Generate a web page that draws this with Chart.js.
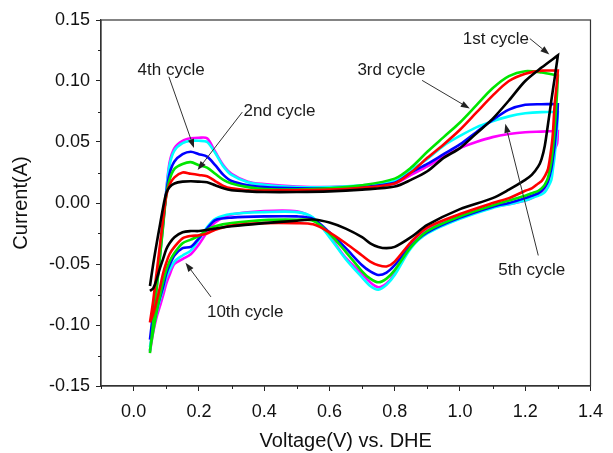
<!DOCTYPE html>
<html>
<head>
<meta charset="utf-8">
<script src="https://cdn.jsdelivr.net/npm/chart.js@4.4.1/dist/chart.umd.min.js"></script>
<style>
    body { margin: 0; background: #fff; }
    #wrap { width: 613px; height: 453px; position: relative; }
</style>
</head>
<body>
<div id="wrap"><canvas id="cvChart"></canvas></div>
<script>
// sweep voltages (V vs. DHE)
const vUp = [0.05, 0.06, 0.07, 0.08, 0.09, 0.10, 0.11, 0.125, 0.15, 0.175, 0.2, 0.225, 0.25, 0.275, 0.3, 0.35, 0.4, 0.5, 0.6, 0.7, 0.8, 0.85, 0.9, 0.95, 1.0, 1.05, 1.1, 1.15, 1.2, 1.25, 1.3];
const vDown = [1.3, 1.298, 1.29, 1.285, 1.28, 1.27, 1.26, 1.25, 1.24, 1.22, 1.2, 1.15, 1.1, 1.0, 0.9, 0.85, 0.8, 0.775, 0.75, 0.725, 0.7, 0.65, 0.6, 0.55, 0.5, 0.4, 0.3, 0.25, 0.225, 0.2, 0.175, 0.15, 0.125, 0.11, 0.1, 0.09, 0.08, 0.07, 0.06, 0.05];

// currents (A), anodic sweep then cathodic sweep
const cycle1Up = [-0.068, -0.050, -0.034, -0.019, -0.004, 0.008, 0.013, 0.016, 0.0175, 0.0178, 0.0175, 0.017, 0.0145, 0.012, 0.0105, 0.0095, 0.009, 0.009, 0.0095, 0.011, 0.0135, 0.019, 0.026, 0.037, 0.045, 0.057, 0.069, 0.084, 0.100, 0.111, 0.121];
const cycle1Down = [0.121, 0.117, 0.102, 0.093, 0.084, 0.065, 0.047, 0.036, 0.030, 0.023, 0.019, 0.011, 0.004, -0.005, -0.018, -0.028, -0.036, -0.037, -0.036, -0.033, -0.028, -0.021, -0.016, -0.0135, -0.0145, -0.0165, -0.019, -0.021, -0.022, -0.023, -0.023, -0.024, -0.028, -0.033, -0.038, -0.046, -0.054, -0.063, -0.070, -0.072];

const cycle2Up = [-0.098, -0.080, -0.058, -0.036, -0.014, 0.006, 0.015, 0.021, 0.025, 0.024, 0.023, 0.022, 0.018, 0.014, 0.012, 0.0105, 0.0103, 0.0105, 0.011, 0.0125, 0.016, 0.025, 0.037, 0.048, 0.060, 0.074, 0.088, 0.100, 0.106, 0.1085, 0.1085];
const cycle2Down = [0.1085, 0.101, 0.080, 0.058, 0.045, 0.028, 0.022, 0.018, 0.016, 0.012, 0.010, 0.004, 0.000, -0.009, -0.020, -0.032, -0.048, -0.052, -0.051, -0.048, -0.043, -0.033, -0.024, -0.0175, -0.0165, -0.0165, -0.0185, -0.022, -0.025, -0.0265, -0.027, -0.029, -0.036, -0.042, -0.049, -0.058, -0.070, -0.081, -0.091, -0.098];

const cycle3Up = [-0.123, -0.098, -0.072, -0.046, -0.020, 0.006, 0.019, 0.028, 0.032, 0.0335, 0.031, 0.029, 0.024, 0.019, 0.016, 0.013, 0.0115, 0.011, 0.012, 0.0145, 0.020, 0.029, 0.042, 0.054, 0.066, 0.080, 0.094, 0.104, 0.108, 0.107, 0.1045];
const cycle3Down = [0.1045, 0.092, 0.060, 0.045, 0.034, 0.021, 0.015, 0.012, 0.010, 0.008, 0.006, 0.002, -0.002, -0.011, -0.023, -0.036, -0.055, -0.062, -0.065, -0.062, -0.056, -0.040, -0.025, -0.0145, -0.0137, -0.014, -0.0165, -0.019, -0.022, -0.027, -0.030, -0.033, -0.041, -0.048, -0.055, -0.065, -0.077, -0.090, -0.105, -0.121];

const cycle4Up = [-0.112, -0.089, -0.065, -0.040, -0.016, 0.008, 0.024, 0.034, 0.040, 0.042, 0.040, 0.038, 0.031, 0.023, 0.018, 0.0145, 0.013, 0.012, 0.012, 0.013, 0.0165, 0.025, 0.032, 0.040, 0.048, 0.058, 0.068, 0.0765, 0.0805, 0.081, 0.081];
const cycle4Down = [0.081, 0.070, 0.047, 0.037, 0.028, 0.018, 0.013, 0.010, 0.008, 0.006, 0.004, 0.000, -0.003, -0.012, -0.024, -0.035, -0.051, -0.057, -0.059, -0.056, -0.051, -0.037, -0.024, -0.013, -0.011, -0.011, -0.012, -0.014, -0.021, -0.029, -0.036, -0.037, -0.043, -0.051, -0.058, -0.069, -0.078, -0.088, -0.099, -0.112];

const cycle5Up = [-0.121, -0.096, -0.070, -0.044, -0.018, 0.010, 0.031, 0.043, 0.049, 0.051, 0.051, 0.050, 0.041, 0.030, 0.023, 0.017, 0.015, 0.013, 0.013, 0.0145, 0.018, 0.027, 0.036, 0.047, 0.055, 0.062, 0.067, 0.071, 0.0735, 0.0745, 0.0745];
const cycle5Down = [0.0745, 0.063, 0.038, 0.028, 0.019, 0.013, 0.009, 0.007, 0.006, 0.004, 0.002, -0.001, -0.004, -0.013, -0.025, -0.037, -0.059, -0.067, -0.071, -0.068, -0.061, -0.046, -0.028, -0.012, -0.0075, -0.0075, -0.009, -0.013, -0.020, -0.030, -0.039, -0.043, -0.048, -0.055, -0.061, -0.071, -0.080, -0.090, -0.103, -0.118];

const cycle10Up = [-0.122, -0.097, -0.071, -0.045, -0.019, 0.010, 0.033, 0.045, 0.051, 0.053, 0.0535, 0.053, 0.042, 0.031, 0.024, 0.0175, 0.0155, 0.0135, 0.013, 0.014, 0.016, 0.023, 0.030, 0.038, 0.045, 0.050, 0.054, 0.0565, 0.058, 0.0585, 0.059];
const cycle10Down = [0.059, 0.049, 0.044, 0.040, 0.033, 0.018, 0.012, 0.009, 0.007, 0.004, 0.002, -0.001, -0.003, -0.011, -0.022, -0.035, -0.058, -0.066, -0.069, -0.065, -0.058, -0.045, -0.027, -0.0125, -0.0068, -0.0066, -0.0095, -0.016, -0.024, -0.034, -0.042, -0.046, -0.050, -0.059, -0.066, -0.076, -0.085, -0.094, -0.106, -0.122];

const cycleNames = ['1st cycle', '2nd cycle', '3rd cycle', '4th cycle', '5th cycle', '10th cycle'];
const cycleColors = ['#000000', '#ff0000', '#00e600', '#0000ff', '#00ffff', '#ff00ff'];
const cycleUp = [cycle1Up, cycle2Up, cycle3Up, cycle4Up, cycle5Up, cycle10Up];
const cycleDown = [cycle1Down, cycle2Down, cycle3Down, cycle4Down, cycle5Down, cycle10Down];

// axis ticks
const xTicks = [0.0, 0.2, 0.4, 0.6, 0.8, 1.0, 1.2, 1.4];
const xMinorTicks = [-0.1, 0.1, 0.3, 0.5, 0.7, 0.9, 1.1, 1.3];
const yTicks = [-0.15, -0.10, -0.05, 0.00, 0.05, 0.10, 0.15];
const yMinorTicks = [-0.125, -0.075, -0.025, 0.025, 0.075, 0.125];

// callouts: label position and arrow, in data units
const callouts = [
    {text: '1st cycle', at: [1.11, 0.134], from: [1.214, 0.1348], to: [1.274, 0.1217]},
    {text: '3rd cycle', at: [0.79, 0.109], from: [0.884, 0.1005], to: [1.030, 0.0775]},
    {text: '4th cycle', at: [0.115, 0.109], from: [0.108, 0.1035], to: [0.185, 0.0450]},
    {text: '2nd cycle', at: [0.447, 0.075], from: [0.333, 0.0745], to: [0.196, 0.0270]},
    {text: '5th cycle', at: [1.220, -0.055], from: [1.240, -0.0430], to: [1.139, 0.0650]},
    {text: '10th cycle', at: [0.342, -0.090], from: [0.237, -0.0770], to: [0.159, -0.0490]}
];

const FONT = "'Liberation Sans', Arial, Helvetica, sans-serif";
Chart.defaults.font.family = FONT;
Chart.defaults.color = '#111';

const datasets = cycleNames.map((name, i) => ({
    label: name,
    data: vUp.map((v, k) => ({x: v, y: cycleUp[i][k]}))
        .concat(vDown.map((v, k) => ({x: v, y: cycleDown[i][k]}))),
    borderColor: cycleColors[i],
    backgroundColor: cycleColors[i],
    borderWidth: 2.6,
    showLine: true,
    pointRadius: 0,
    tension: 0.3,
    fill: false
}));

const framePlugin = {
    id: 'frame',
    afterDraw(chart) {
        const {ctx, chartArea: area, scales: {x, y}} = chart;
        ctx.save();
        ctx.strokeStyle = '#333';
        ctx.lineWidth = 1.2;
        ctx.strokeRect(area.left, area.top, area.right - area.left, area.bottom - area.top);

        ctx.strokeStyle = '#222';
        ctx.lineWidth = 1;
        ctx.beginPath();
        xMinorTicks.forEach(v => {
            const px = Math.round(x.getPixelForValue(v)) + 0.5;
            ctx.moveTo(px, area.bottom);
            ctx.lineTo(px, area.bottom + 3);
        });
        yMinorTicks.forEach(v => {
            const py = Math.round(y.getPixelForValue(v)) + 0.5;
            ctx.moveTo(area.left - 3, py);
            ctx.lineTo(area.left, py);
        });
        ctx.stroke();

        // callout labels and arrows
        ctx.font = `17px ${FONT}`;
        ctx.textAlign = 'center';
        ctx.textBaseline = 'middle';
        callouts.forEach(c => {
            ctx.fillStyle = '#1a1a1a';
            ctx.fillText(c.text, x.getPixelForValue(c.at[0]), y.getPixelForValue(c.at[1]));
            const x1 = x.getPixelForValue(c.from[0]), y1 = y.getPixelForValue(c.from[1]);
            const x2 = x.getPixelForValue(c.to[0]), y2 = y.getPixelForValue(c.to[1]);
            const ang = Math.atan2(y2 - y1, x2 - x1);
            const head = 9, half = 3.2;
            const bx = x2 - head * Math.cos(ang), by = y2 - head * Math.sin(ang);
            ctx.strokeStyle = '#333';
            ctx.lineWidth = 1;
            ctx.beginPath();
            ctx.moveTo(x1, y1);
            ctx.lineTo(bx, by);
            ctx.stroke();
            ctx.fillStyle = '#222';
            ctx.beginPath();
            ctx.moveTo(x2, y2);
            ctx.lineTo(bx + half * Math.sin(ang), by - half * Math.cos(ang));
            ctx.lineTo(bx - half * Math.sin(ang), by + half * Math.cos(ang));
            ctx.closePath();
            ctx.fill();
        });
        ctx.restore();
    }
};

new Chart(document.getElementById('cvChart').getContext('2d'), {
    type: 'scatter',
    data: {datasets},
    options: {
        responsive: true,
        maintainAspectRatio: false,
        animation: false,
        layout: {padding: {top: 20, right: 13, left: 0, bottom: 0}},
        plugins: {legend: {display: false}, tooltip: {enabled: false}},
        scales: {
            x: {
                type: 'linear',
                min: -0.1,
                max: 1.4,
                afterFit: scale => { scale.height = 67; },
                afterBuildTicks: scale => { scale.ticks = xTicks.map(v => ({value: v})); },
                ticks: {
                    font: {size: 18},
                    color: '#111',
                    padding: 10,
                    maxRotation: 0,
                    autoSkip: false,
                    callback: v => Number(v).toFixed(1)
                },
                grid: {display: true, drawOnChartArea: false, drawTicks: true, tickLength: 5, color: '#222'},
                border: {display: true, color: '#333', width: 1.2},
                title: {display: true, text: 'Voltage(V) vs. DHE', font: {size: 20, lineHeight: 1}, color: '#111', padding: {top: 0, bottom: 2}}
            },
            y: {
                type: 'linear',
                min: -0.15,
                max: 0.15,
                afterFit: scale => { scale.width = 101; },
                afterBuildTicks: scale => { scale.ticks = yTicks.map(v => ({value: v})); },
                ticks: {
                    font: {size: 18},
                    color: '#111',
                    padding: 6,
                    autoSkip: false,
                    callback: v => Number(v).toFixed(2)
                },
                grid: {display: true, drawOnChartArea: false, drawTicks: true, tickLength: 5, color: '#222'},
                border: {display: true, color: '#333', width: 1.2},
                title: {display: true, text: 'Current(A)', font: {size: 20, lineHeight: 1}, color: '#111', padding: {top: 11, bottom: 0}}
            }
        }
    },
    plugins: [framePlugin]
});
</script>
</body>
</html>
